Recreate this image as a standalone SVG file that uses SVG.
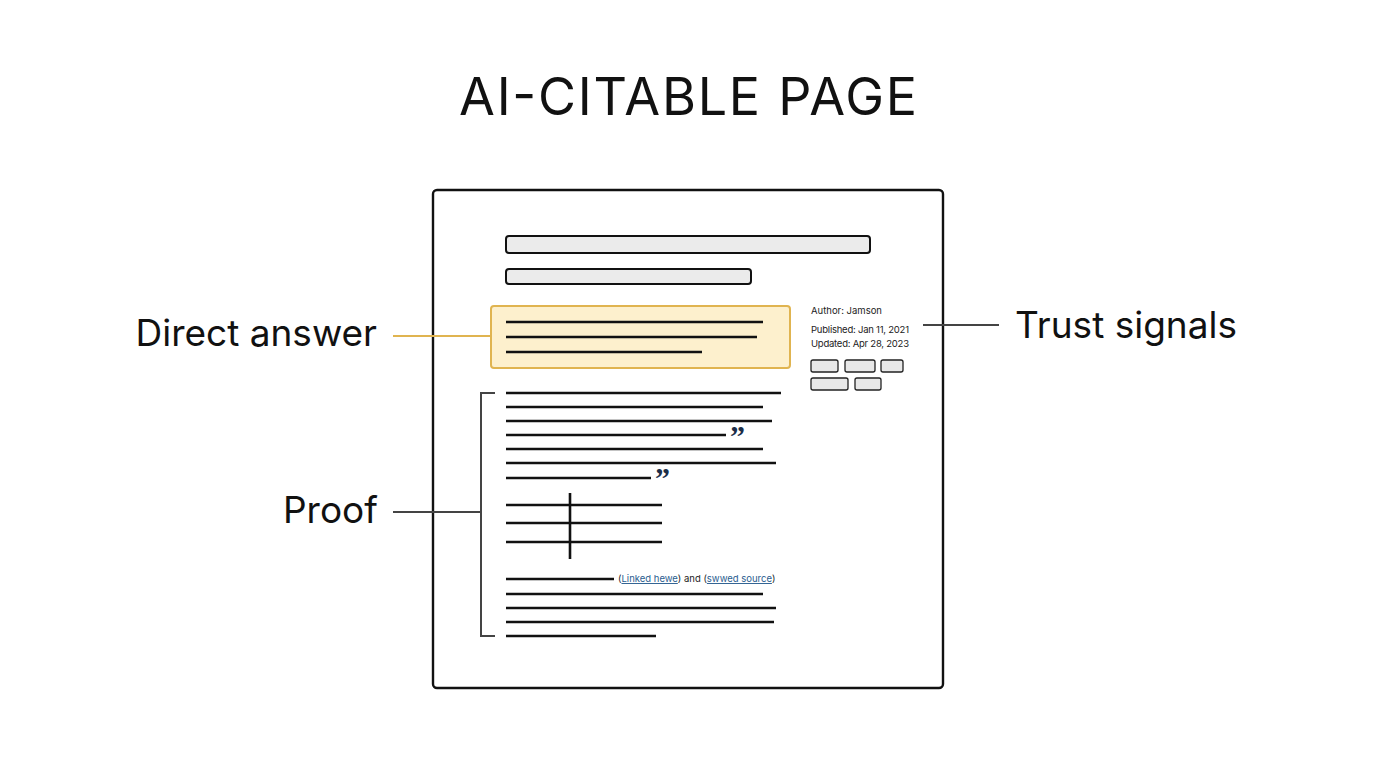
<svg xmlns="http://www.w3.org/2000/svg" width="1376" height="768" viewBox="0 0 1376 768">
<style>
.t{font-family:Inter,"Noto Sans",sans-serif;fill:#111}
.ln{stroke:#111;stroke-width:2.6;fill:none}
.s{font-family:Inter,"Noto Sans",sans-serif;font-size:9.5px;fill:#222}
.tag{fill:#e8e8e8;stroke:#222;stroke-width:1.3}
.lk{fill:#2a5d8f;text-decoration:underline}
.q{font-family:Georgia,"Liberation Serif",serif;font-weight:bold;font-size:30px;fill:#1c2e48}
</style>
<rect width="1376" height="768" fill="#fff"/>
<text class="t" x="688" y="115" text-anchor="middle" font-size="52" textLength="458">AI-CITABLE PAGE</text>
<g id="page">
<rect x="433" y="190" width="510" height="498" rx="4" fill="#fff" stroke="#111" stroke-width="2.4"/>
<rect x="506" y="236" width="364" height="17" rx="3" fill="#ebebeb" stroke="#111" stroke-width="2"/>
<rect x="506" y="269" width="245" height="15" rx="3" fill="#ebebeb" stroke="#111" stroke-width="2"/>
</g>
<g id="direct-answer-box">
<rect x="491" y="306" width="299" height="62" rx="3" fill="#fdf0cd" stroke="#e0b450" stroke-width="2"/>
<path class="ln" d="M506 322H763M506 337H757M506 352H702"/>
</g>
<g id="trust">
<text class="s" x="811" y="314">Author: Jamson</text>
<text class="s" x="811" y="333" textLength="98">Published: Jan 11, 2021</text>
<text class="s" x="811" y="347" textLength="98">Updated: Apr 28, 2023</text>
<rect class="tag" x="811" y="360" width="27" height="12" rx="2"/>
<rect class="tag" x="845" y="360" width="30" height="12" rx="2"/>
<rect class="tag" x="881" y="360" width="22" height="12" rx="2"/>
<rect class="tag" x="811" y="378" width="37" height="12" rx="2"/>
<rect class="tag" x="855" y="378" width="26" height="12" rx="2"/>
</g>
<g id="proof">
<path class="ln" d="M506 393H781M506 407H763M506 421H772M506 435H726M506 449H763M506 463H776M506 478H651"/>
<text class="q" x="730" y="446">”</text>
<text class="q" x="655" y="488">”</text>
<path class="ln" d="M506 505H662M506 523H662M506 542H662M570 493V559"/>
<path class="ln" d="M506 579H614M506 594H763M506 608H776M506 622H774M506 636H656"/>
<text class="s" x="618" y="582">(<tspan class="lk">Linked hewe</tspan>) and (<tspan class="lk">swwed source</tspan>)</text>
</g>
<g id="connectors" fill="none" stroke-width="2">
<path d="M393 336H491" stroke="#e0b450"/>
<path d="M923 325H999" stroke="#444"/>
<path d="M393 512H481M495 393H481V636H495" stroke="#444"/>
</g>
<g id="labels">
<text class="t" x="377" y="346" text-anchor="end" font-size="37">Direct answer</text>
<text class="t" x="1015" y="338" font-size="37">Trust signals</text>
<text class="t" x="378" y="523" text-anchor="end" font-size="37">Proof</text>
</g>
</svg>
